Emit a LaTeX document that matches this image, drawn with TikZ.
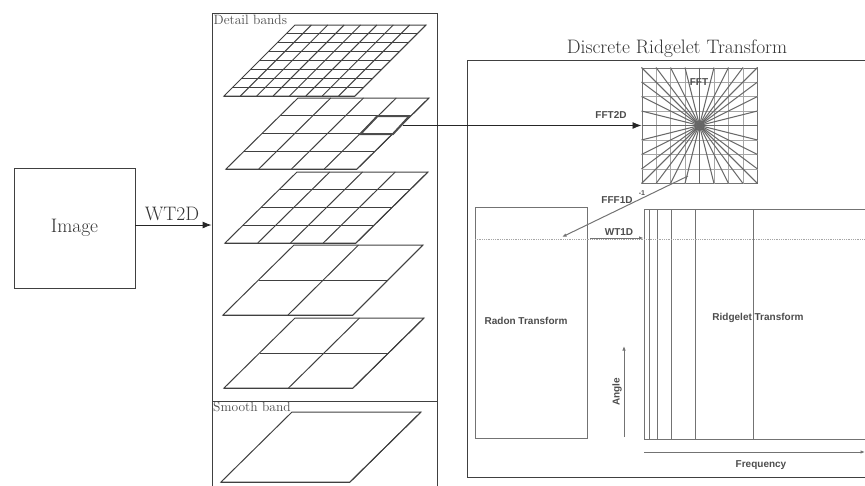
\documentclass[tikz,border=0pt]{standalone}
\usepackage{fontspec}
\newfontfamily\labelfont{Liberation Sans}
\usetikzlibrary{arrows.meta,positioning,calc}

\begin{document}
\begin{tikzpicture}[
    x=1pt, y=-1pt,
    box/.style={draw=black!75, line width=0.9pt, inner sep=0pt},
    plane/.style={draw=black!75, line width=1pt, line join=miter},
    serif big/.style={font=\fontsize{19.5}{22}\selectfont, text=black!80, inner sep=0pt},
    serif small/.style={font=\fontsize{13.5}{16}\selectfont, text=black!70, inner sep=0pt},
    sans label/.style={font=\labelfont\bfseries\fontsize{10}{12}\selectfont, text=black!70, inner sep=0pt},
    inner box/.style={draw=black!55, line width=1pt, inner sep=0pt},
    arrow/.style={-{Latex[length=9pt,width=7pt]}, draw=black!85, line width=0.9pt},
    soft arrow/.style={-{Latex[length=4.5pt,width=3.5pt]}, draw=black!55, line width=1pt}
  ]
    \clip (0,0) rectangle (865,485);
    % left part
    \node[box, minimum width=121pt, minimum height=120pt] (img) at (74.5,228) {};
    \node[serif big] (imgtext) at (img.center) {Image};
    \node[box, minimum width=225pt, minimum height=388pt] (detail) at (324.5,207) {};
    \node[box, minimum width=225pt, minimum height=120pt, anchor=north] (smooth) at (detail.south) {};
    \node[serif small, anchor=west] (detailtext) at (213.5,20) {Detail bands};
    \node[serif small, anchor=west] (smoothtext) at (213,407) {Smooth band};
    \coordinate (imgout) at (135,225);
    \draw[arrow] (imgout) -- (imgout -| detail.west);
    \node[serif big] (wt2d) at (172,214) {WT2D};
    % wavelet planes
    \foreach \tlx/\trx/\topy/\blx/\brx/\boty/\n in {
        295/426/25/224/355/96/8,
        298/429/98/226/357/169/4,
        297/428/172/225/356/243/4,
        294/423/245/223/353/315/2,
        295/424/318/224/353/388/2,
        292/421/412/221/350/482/1}{
      \coordinate (tl) at (\tlx,\topy);
      \coordinate (tr) at (\trx,\topy);
      \coordinate (bl) at (\blx,\boty);
      \coordinate (br) at (\brx,\boty);
      \draw[plane] (bl) -- (br) -- (tr) -- (tl) -- cycle;
      \foreach \k in {1,...,\n}{
        \draw[plane] ($(tl)!\k/\n!(tr)$) -- ($(bl)!\k/\n!(br)$);
        \draw[plane] ($(tl)!\k/\n!(bl)$) -- ($(tr)!\k/\n!(br)$);
      }
    }
    \draw[draw=black!70, line width=2pt, line join=miter] (377.5,116) -- (409.5,116) -- (393,134) -- (360.5,134) -- cycle;
    \coordinate (cell) at (403,125.5);
    % ridgelet part
    \node[box, minimum width=433pt, minimum height=417pt] (drt) at (683.5,268.5) {};
    \node[serif big, above=1.5pt of drt.north, xshift=-6.5pt, anchor=south] (drttext) {Discrete Ridgelet Transform};
    \node[inner box, minimum size=115pt] (fft) at (699.5,125.5) {};
    \foreach \k in {1,...,7}{
      \draw[draw=black!35, line width=0.8pt] ($(fft.north west)!\k/8!(fft.north east)$) -- ($(fft.south west)!\k/8!(fft.south east)$);
      \draw[draw=black!35, line width=0.8pt] ($(fft.north west)!\k/8!(fft.south west)$) -- ($(fft.north east)!\k/8!(fft.south east)$);
    }
    \foreach \k in {0,...,8}{
      \draw[draw=black!60, line width=1pt] ($(fft.north west)!\k/8!(fft.north east)$) -- ($(fft.south east)!\k/8!(fft.south west)$);
      \draw[draw=black!60, line width=1pt] ($(fft.north west)!\k/8!(fft.south west)$) -- ($(fft.south east)!\k/8!(fft.north east)$);
    }
    \node[sans label] (ffttext) at (699,82) {FFT};
    \draw[arrow] (cell) -- (cell -| fft.west);
    \node[sans label] (fft2d) at (611,115) {FFT2D};
    \node[inner box, minimum width=112pt, minimum height=231pt] (radon) at (531,322.5) {};
    \node[sans label] (radontext) at (526,321) {Radon Transform};
    \node[inner box, minimum width=256pt, minimum height=230pt] (ridgelet) at (772,324) {};
    \foreach \x in {649,657,671,695,753}{
      \draw[draw=black!55, line width=1pt] (\x,209) -- (\x,439);
    }
    \node[sans label] (ridgelettext) at (758,318) {Ridgelet Transform};
    \coordinate (radonin) at (688,176);
    \coordinate (radonhit) at (562,237);
    \coordinate (levelin) at (475,239);
    \coordinate (levelout) at (865,239);
    \draw[draw=black!35, line width=0.8pt, densely dotted] (levelin) -- (levelout);
    \draw[soft arrow] (radonin) -- (radonhit);
    \node[sans label] (fff1d) at (617,200) {FFF1D};
    \node[sans label, font=\labelfont\bfseries\fontsize{7}{8}\selectfont] (fffexp) at (642,193) {-1};
    \coordinate (wtout) at (590,238);
    \draw[soft arrow] (wtout) -- (wtout -| ridgelet.west);
    \node[sans label] (wt1d) at (619,232) {WT1D};
    % axes
    \coordinate (anglestart) at (624,437);
    \coordinate (angleend) at (624,346);
    \draw[soft arrow] (anglestart) -- (angleend);
    \node[sans label, rotate=90] (angle) at (617,392) {Angle};
    \coordinate (freqstart) at (644,452);
    \coordinate (freqend) at (865,452);
    \draw[soft arrow] (freqstart) -- (freqend);
    \node[sans label] (freq) at (761,465) {Frequency};
  \end{tikzpicture}
\end{document}
